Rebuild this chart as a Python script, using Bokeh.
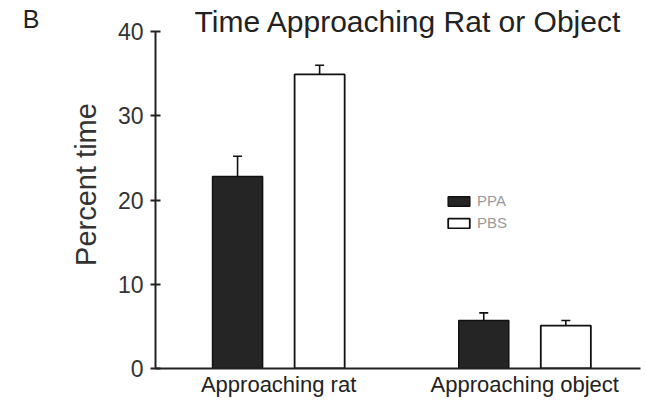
from bokeh.plotting import figure
from bokeh.models import (ColumnDataSource, Range1d, FixedTicker, Whisker, TeeHead,
                          Label, Legend, LegendItem, LinearAxis)
from bokeh.embed import file_html
from bokeh.resources import INLINE

# ---- data ----
categories = ["Approaching rat", "Approaching object"]
series = ["PPA", "PBS"]
ppa_mean = [22.8, 5.7]
ppa_err = [2.4, 0.9]
pbs_mean = [34.9, 5.1]
pbs_err = [1.1, 0.6]
y_ticks = [0, 10, 20, 30, 40]
title_text = "Time Approaching Rat or Object"
panel_letter = "B"
y_label = "Percent time"

FONT = "Liberation Sans"
Y_MAX = 40
Y_TOP = 43.68   # room above the axis for the title
LETTER_Y = 41.45

# positions: groups spaced 3 units apart, two bars per group
def pos(g, s):
    return 1 + 3 * g + s

ppa_src = ColumnDataSource(dict(
    x=[pos(g, 0) for g in range(len(categories))], top=ppa_mean,
    upper=[m + e for m, e in zip(ppa_mean, ppa_err)],
    lower=[m - e for m, e in zip(ppa_mean, ppa_err)]))
pbs_src = ColumnDataSource(dict(
    x=[pos(g, 1) for g in range(len(categories))], top=pbs_mean,
    upper=[m + e for m, e in zip(pbs_mean, pbs_err)],
    lower=[m - e for m, e in zip(pbs_mean, pbs_err)]))

p = figure(frame_width=485, frame_height=368, output_backend="svg", toolbar_location=None,
           x_range=Range1d(0, 5.91), y_range=Range1d(0, Y_TOP),
           min_border_left=155, min_border_right=6, min_border_top=0,
           min_border_bottom=33)
p.outline_line_color = None
p.grid.visible = False
p.background_fill_color = "white"

r_ppa = p.vbar(x="x", top="top", width=0.61, bottom=0, source=ppa_src,
               fill_color="#252525", line_color="#111111", line_width=1.5)
r_pbs = p.vbar(x="x", top="top", width=0.61, bottom=0, source=pbs_src,
               fill_color="white", line_color="#111111", line_width=1.8)

for src in (ppa_src, pbs_src):
    w = Whisker(source=src, base="x", upper="upper", lower="lower",
                line_color="#111111", line_width=1.6,
                upper_head=TeeHead(size=9, line_color="#111111", line_width=1.6),
                lower_head=TeeHead(size=9, line_color="#111111", line_width=1.6))
    p.add_layout(w)

# axes
yax = p.yaxis[0]
yax.bounds = (0, Y_MAX)
yax.ticker = FixedTicker(ticks=y_ticks)
yax.minor_tick_line_color = None
yax.major_tick_in = 5
yax.major_tick_out = 5
yax.major_tick_line_width = 2
yax.major_tick_line_color = "#222222"
yax.axis_line_width = 2
yax.axis_line_color = "#222222"
yax.major_label_text_font = FONT
yax.major_label_text_font_size = "23px"
yax.major_label_text_color = "#333333"
yax.major_label_standoff = 7
yax.axis_label = y_label
yax.axis_label_text_font = FONT
yax.axis_label_text_font_size = "29px"
yax.axis_label_text_font_style = "normal"
yax.axis_label_text_color = "#333333"
yax.axis_label_standoff = 13

# panel letter, carried as the only tick label of a bare axis left of the main one
letter_axis = LinearAxis(ticker=FixedTicker(ticks=[LETTER_Y]),
                         major_label_overrides={LETTER_Y: panel_letter},
                         axis_line_color=None, major_tick_line_color=None,
                         minor_tick_line_color=None, major_tick_in=0, major_tick_out=0,
                         minor_tick_in=0, minor_tick_out=0,
                         major_label_standoff=27, major_label_text_font=FONT,
                         major_label_text_font_size="25px",
                         major_label_text_color="#222222")
p.add_layout(letter_axis, "left")

xax = p.xaxis[0]
xax.ticker = FixedTicker(ticks=[pos(g, 0.5) for g in range(len(categories))])
xax.major_label_overrides = {pos(g, 0.5): c for g, c in enumerate(categories)}
xax.major_tick_line_color = None
xax.major_tick_in = 0
xax.major_tick_out = 0
xax.minor_tick_line_color = None
xax.axis_line_width = 2
xax.axis_line_color = "#222222"
xax.major_label_text_font = FONT
xax.major_label_text_font_size = "22px"
xax.major_label_text_color = "#222222"
xax.major_label_standoff = 3

# title
p.add_layout(Label(x=3.08, y=Y_MAX, y_offset=10, text=title_text, text_align="center",
                   text_baseline="alphabetic", text_font=FONT,
                   text_font_size="30px", text_color="#222222"))

legend = Legend(items=[LegendItem(label=series[0], renderers=[r_ppa]),
                       LegendItem(label=series[1], renderers=[r_pbs])],
                location=(290, 137), glyph_width=27, glyph_height=12,
                label_height=12, spacing=5, padding=0, margin=0,
                label_standoff=5, label_text_font=FONT,
                label_text_font_size="15px", label_text_color="#999999",
                border_line_color=None, background_fill_alpha=0)
p.add_layout(legend)

open("out.html", "w").write(file_html(p, INLINE))
